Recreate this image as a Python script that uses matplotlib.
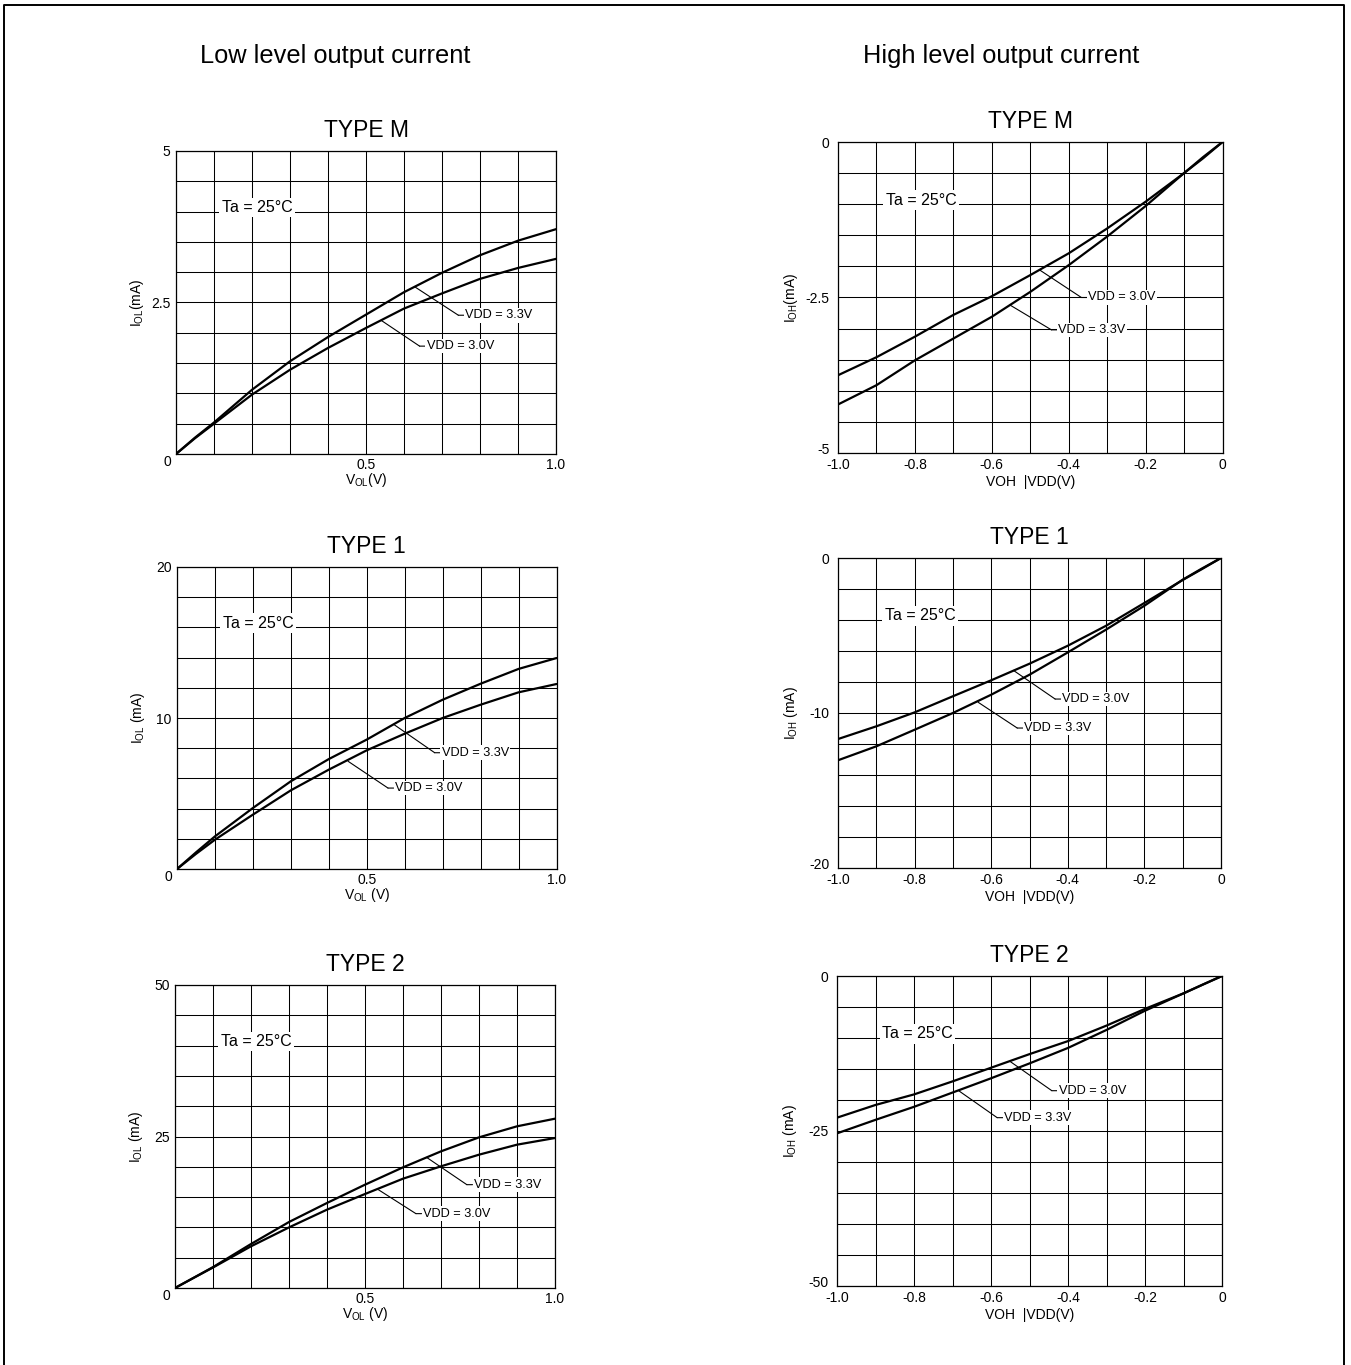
import matplotlib
matplotlib.use("Agg")
import matplotlib.pyplot as plt
from matplotlib.lines import Line2D
from matplotlib.transforms import ScaledTranslation
import numpy as np

plt.rcParams['font.family'] = ['Liberation Sans', 'DejaVu Sans']
plt.rcParams['mathtext.fontset'] = 'custom'
plt.rcParams['mathtext.rm'] = 'Liberation Sans'
plt.rcParams['mathtext.it'] = 'Liberation Sans:italic'

W, H = 1351, 1365

# ---------------- data ----------------
# Low level output current (x = VOL in V)
vol = [0.0, 0.05, 0.1, 0.2, 0.3, 0.4, 0.5, 0.6, 0.7, 0.8, 0.9, 1.0]
typeM_iol_33 = [0.0, 0.27, 0.52, 1.06, 1.53, 1.93, 2.30, 2.67, 2.99, 3.28, 3.52, 3.71]
typeM_iol_30 = [0.0, 0.26, 0.50, 0.98, 1.39, 1.75, 2.08, 2.40, 2.65, 2.89, 3.07, 3.22]
type1_iol_33 = [0.0, 1.10, 2.16, 4.04, 5.81, 7.28, 8.57, 10.0, 11.21, 12.27, 13.25, 13.97]
type1_iol_30 = [0.0, 1.00, 1.94, 3.60, 5.21, 6.58, 7.86, 8.96, 10.0, 10.88, 11.70, 12.25]
type2_iol_33 = [0.0, 1.72, 3.45, 7.26, 10.89, 14.03, 17.05, 19.91, 22.55, 24.86, 26.68, 27.94]
type2_iol_30 = [0.0, 1.70, 3.38, 6.88, 10.0, 12.93, 15.51, 18.04, 20.08, 22.0, 23.65, 24.75]

# High level output current (x = VOH - VDD in V)
voh = [-1.0, -0.9, -0.8, -0.7, -0.6, -0.5, -0.4, -0.3, -0.2, -0.1, -0.05, 0.0]
typeM_ioh_30 = [-3.75, -3.46, -3.13, -2.78, -2.48, -2.14, -1.79, -1.39, -0.96, -0.50, -0.26, 0.0]
typeM_ioh_33 = [-4.22, -3.91, -3.51, -3.16, -2.81, -2.41, -1.98, -1.52, -1.03, -0.50, -0.24, 0.0]
type1_ioh_30 = [-11.68, -10.86, -9.96, -8.92, -7.89, -6.82, -5.66, -4.37, -2.90, -1.42, -0.72, 0.0]
type1_ioh_33 = [-13.05, -12.15, -11.08, -10.0, -8.82, -7.53, -6.09, -4.62, -3.08, -1.40, -0.68, 0.0]
type2_ioh_30 = [-22.85, -20.8, -19.1, -17.0, -14.8, -12.6, -10.5, -8.0, -5.3, -2.8, -1.4, 0.0]
type2_ioh_33 = [-25.38, -23.2, -21.1, -18.8, -16.5, -14.1, -11.6, -8.7, -5.6, -2.8, -1.38, 0.0]

titles = ["TYPE M", "TYPE 1", "TYPE 2"]
left_ymax = [5, 20, 50]
left_yticks = [[2.5, 5], [10, 20], [25, 50]]
left_yticklabels = [["2.5", "5"], ["10", "20"], ["25", "50"]]
right_ymin = [-5, -20, -50]
right_yticks = [[-5, -2.5, 0], [-20, -10, 0], [-50, -25, 0]]
right_yticklabels = [["-5", "-2.5", "0"], ["-20", "-10", "0"], ["-50", "-25", "0"]]
left_ylabels = [r"I$_{\mathregular{OL}}$(mA)", r"I$_{\mathregular{OL}}$ (mA)", r"I$_{\mathregular{OL}}$ (mA)"]
left_xlabels = [r"V$_{\mathregular{OL}}$(V)", r"V$_{\mathregular{OL}}$ (V)", r"V$_{\mathregular{OL}}$ (V)"]
right_ylabels = [r"I$_{\mathregular{OH}}$(mA)", r"I$_{\mathregular{OH}}$ (mA)", r"I$_{\mathregular{OH}}$ (mA)"]
right_xlabel = "VOH  |VDD(V)"

left_series = [(typeM_iol_33, typeM_iol_30), (type1_iol_33, type1_iol_30), (type2_iol_33, type2_iol_30)]
right_series = [(typeM_ioh_30, typeM_ioh_33), (type1_ioh_30, type1_ioh_33), (type2_ioh_30, type2_ioh_33)]

# annotation anchors: (curve point, knee) in data units
left_ann = [
    [("VDD = 3.3V", (0.628, 2.76), (0.743, 2.29)), ("VDD = 3.0V", (0.540, 2.205), (0.641, 1.78))],
    [("VDD = 3.3V", (0.572, 9.56), (0.679, 7.70)), ("VDD = 3.0V", (0.451, 7.13), (0.556, 5.36))],
    [("VDD = 3.3V", (0.662, 21.56), (0.768, 17.05)), ("VDD = 3.0V", (0.535, 16.23), (0.634, 12.27))],
]
right_ann = [
    [("VDD = 3.0V", (-0.475, -2.06), (-0.367, -2.50)), ("VDD = 3.3V", (-0.553, -2.62), (-0.445, -3.02))],
    [("VDD = 3.0V", (-0.542, -7.25), (-0.433, -9.10)), ("VDD = 3.3V", (-0.634, -9.31), (-0.532, -10.97))],
    [("VDD = 3.0V", (-0.550, -13.8), (-0.442, -18.5)), ("VDD = 3.3V", (-0.684, -18.5), (-0.584, -22.85))],
]
left_ta = [(0.12, 4.0), (0.12, 16.0), (0.12, 40.0)]
right_ta = [(-0.876, -1.0), (-0.878, -4.0), (-0.883, -10.0)]

# pixel boxes (left, top, right, bottom)
left_boxes = [(176, 151, 556, 454), (177, 567, 556.5, 869), (175, 985, 555, 1288)]
right_boxes = [(838, 142, 1222.5, 453), (838, 558, 1221, 868), (837, 976, 1222, 1286)]

fig = plt.figure(figsize=(W / 100, H / 100), dpi=100)
fig.patch.set_facecolor('white')

def mkax(box):
    l, t, r, b = box
    return fig.add_axes([l / W, 1 - b / H, (r - l) / W, (b - t) / H])

def style(ax):
    ax.grid(True, which='both', color='black', linewidth=0.75)
    ax.set_axisbelow(True)
    for s in ax.spines.values():
        s.set_linewidth(0.9)
        s.set_color('black')
    ax.tick_params(length=0, labelsize=10)

def add_ann(ax, items):
    for label, pt, knee in items:
        ax.annotate('', xy=pt, xytext=knee,
                    arrowprops=dict(arrowstyle='-', lw=0.8, color='black', shrinkA=0, shrinkB=0))
        ax.annotate(label, xy=knee, xytext=(5, 0), textcoords='offset points',
                    ha='left', va='center', fontsize=9.2,
                    bbox=dict(boxstyle='square,pad=0.1', fc='white', ec='none'),
                    arrowprops=dict(arrowstyle='-', lw=0.8, color='black', shrinkA=0, shrinkB=0,
                                    relpos=(0, 0.5)))

def add_ta(ax, pos):
    ax.annotate("Ta = 25°C", xy=pos, xytext=(0, 3), textcoords='offset points',
                ha='left', va='center', fontsize=11.5,
                bbox=dict(boxstyle='square,pad=0.15', fc='white', ec='none'))

for i in range(3):
    # left panels
    ax = mkax(left_boxes[i])
    style(ax)
    ax.set_xlim(0, 1.0)
    ax.set_ylim(0, left_ymax[i])
    ax.set_xticks(np.linspace(0, 1, 11), minor=True)
    ax.set_yticks(np.linspace(0, left_ymax[i], 11), minor=True)
    ax.set_xticks([0.5, 1.0])
    ax.set_xticklabels(["0.5", "1.0"])
    ax.set_yticks(left_yticks[i])
    ax.set_yticklabels(left_yticklabels[i])
    ax.tick_params(which='both', length=0)
    ax.tick_params(axis='y', pad=4)
    ax.tick_params(axis='x', pad=3)
    ax.text(-0.013, -0.028, "0", transform=ax.transAxes, ha='right', va='center', fontsize=10)
    a33, a30 = left_series[i]
    ax.plot(vol, a33, color='black', lw=1.6, solid_capstyle='round', solid_joinstyle='round')
    ax.plot(vol, a30, color='black', lw=1.6, solid_capstyle='round', solid_joinstyle='round')
    add_ann(ax, left_ann[i])
    add_ta(ax, left_ta[i])
    ax.set_ylabel(left_ylabels[i], fontsize=10)
    ax.yaxis.set_label_coords(-0.08, 0.5)
    ax.set_xlabel(left_xlabels[i], fontsize=10)
    ax.xaxis.set_label_coords(0.5, -0.055)
    l, t, r, b = left_boxes[i]
    fig.text((l + r) / 2 / W, 1 - (t - 14) / H, titles[i], ha='center', va='baseline', fontsize=16.5)

    # right panels
    ax = mkax(right_boxes[i])
    style(ax)
    ax.set_xlim(-1.0, 0)
    ax.set_ylim(right_ymin[i], 0)
    ax.set_xticks(np.linspace(-1, 0, 11), minor=True)
    ax.set_yticks(np.linspace(right_ymin[i], 0, 11), minor=True)
    ax.set_xticks([-1.0, -0.8, -0.6, -0.4, -0.2, 0])
    ax.set_xticklabels(["-1.0", "-0.8", "-0.6", "-0.4", "-0.2", "0"])
    ax.set_yticks(right_yticks[i])
    ax.set_yticklabels(right_yticklabels[i])
    ax.tick_params(which='both', length=0)
    ax.tick_params(axis='y', pad=6)
    ax.tick_params(axis='x', pad=3.5)
    # lift the bottom y tick label a little so it clears the "-1.0" x tick label
    lbl = ax.get_yticklabels()[0]
    lbl.set_transform(lbl.get_transform() + ScaledTranslation(0, 3 / 72, fig.dpi_scale_trans))
    b30, b33 = right_series[i]
    ax.plot(voh, b30, color='black', lw=1.6, solid_capstyle='round', solid_joinstyle='round')
    ax.plot(voh, b33, color='black', lw=1.6, solid_capstyle='round', solid_joinstyle='round')
    add_ann(ax, right_ann[i])
    add_ta(ax, right_ta[i])
    ax.set_ylabel(right_ylabels[i], fontsize=10)
    ax.yaxis.set_label_coords(-0.098, 0.5)
    ax.set_xlabel(right_xlabel, fontsize=10)
    ax.xaxis.set_label_coords(0.5, -0.07)
    l, t, r, b = right_boxes[i]
    fig.text((l + r) / 2 / W, 1 - (t - 14) / H, titles[i], ha='center', va='baseline', fontsize=16.5)

fig.text(335 / W, 1 - 63 / H, "Low level output current", ha='center', va='baseline', fontsize=18.3)
fig.text(1001 / W, 1 - 63 / H, "High level output current", ha='center', va='baseline', fontsize=18.3)

# outer frame (left, top, right)
fx0, fx1, fy1 = 4 / W, 1344 / W, 1 - 5 / H
fig.add_artist(Line2D([fx0, fx0, fx1, fx1], [0, fy1, fy1, 0], transform=fig.transFigure,
                      color='black', lw=1.4))

fig.savefig("out.png", dpi=100, facecolor='white')
